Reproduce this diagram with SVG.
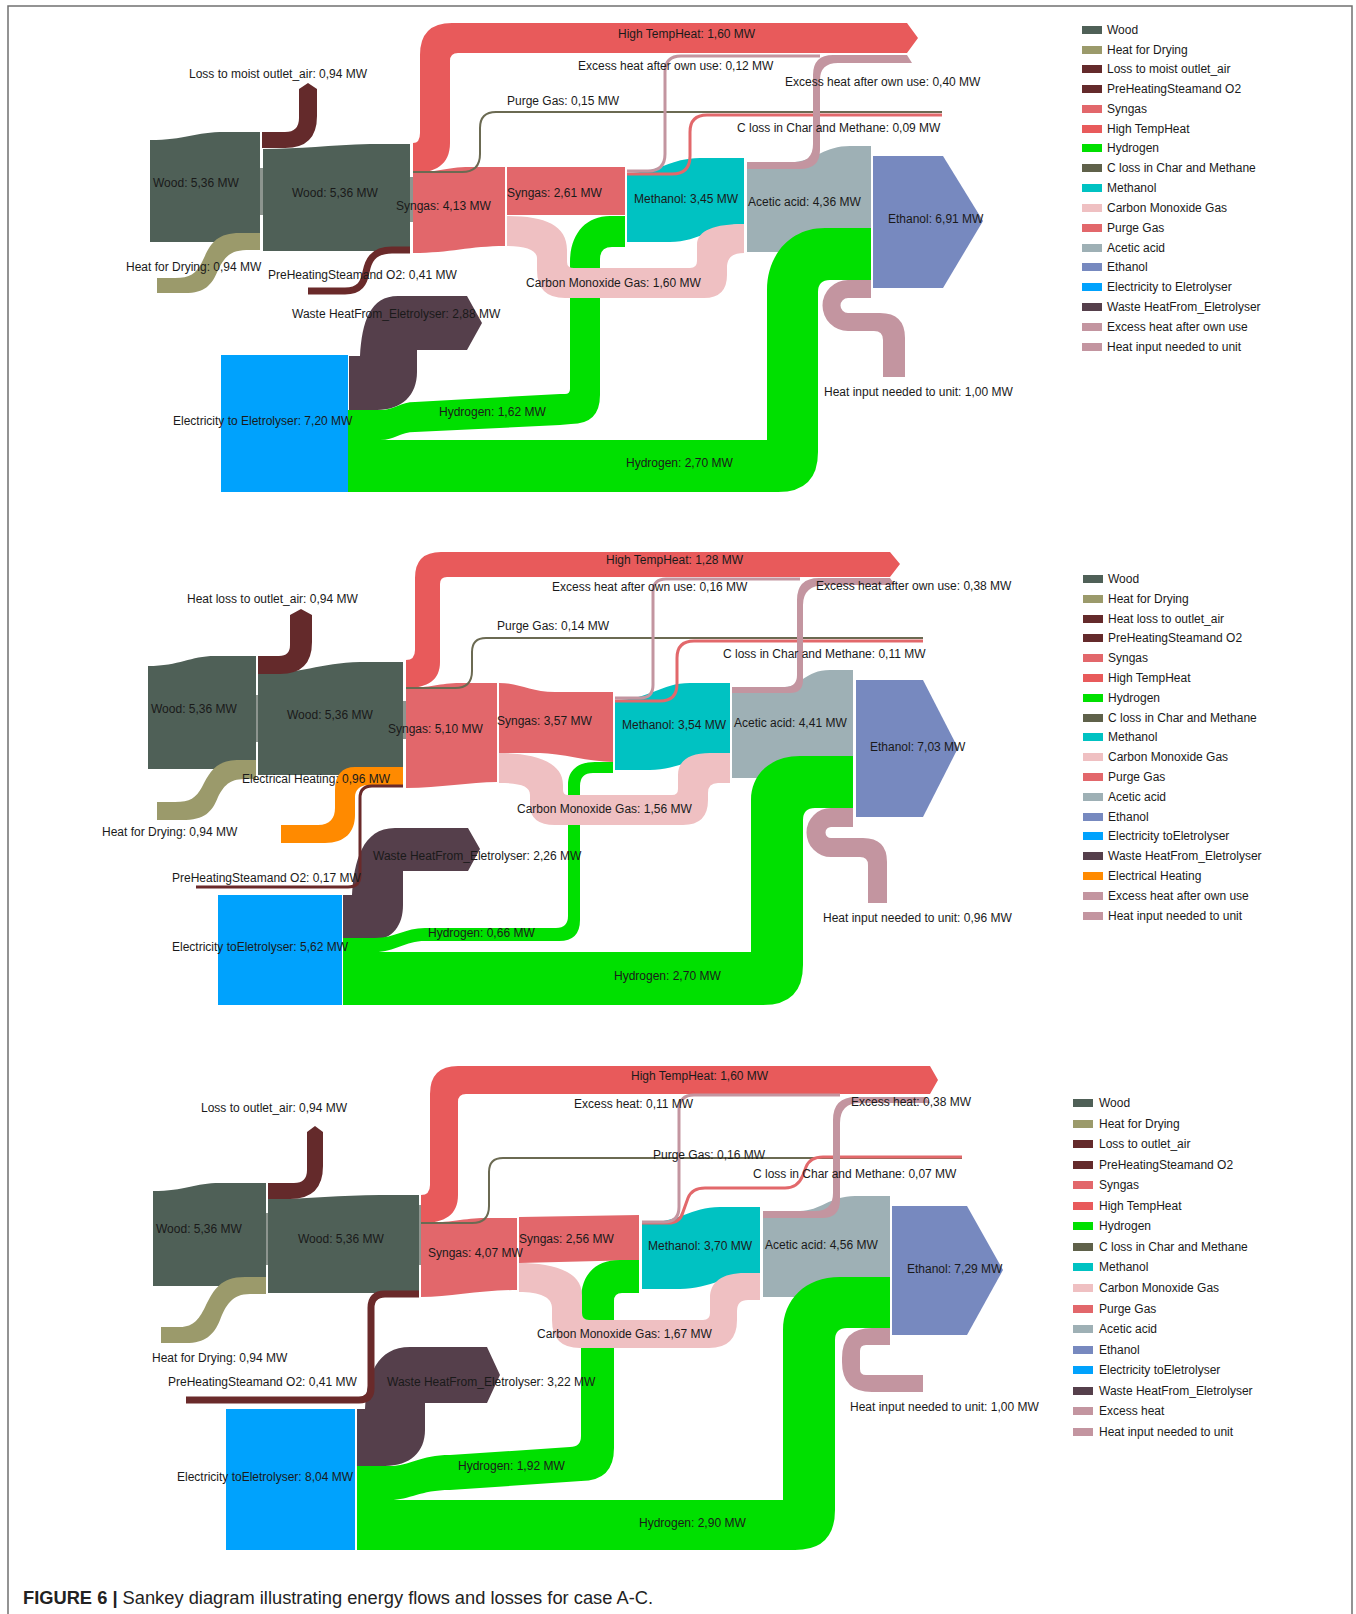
<svg xmlns="http://www.w3.org/2000/svg" width="1356" height="1614" viewBox="0 0 1356 1614">
<style>
.t{font-family:"Liberation Sans",Arial,sans-serif;font-size:12px;fill:#1a1a1a}
.wood{fill:#4f6057}.dry{fill:#9b9a6b}.loss{fill:#642a2b}.syn{fill:#e2676b}.hth{fill:#e85a5b}
.h2{fill:#00e000}.meoh{fill:#00c2c2}.co{fill:#efc0c2}.ace{fill:#9eb0b5}.eth{fill:#7789bf}
.elec{fill:#00a2fd}.waste{fill:#553f4b}.exc{fill:#c395a0}.eheat{fill:#ff8a00}.strip{fill:#8d958f}
.lgrey{fill:none;stroke:#6b6a52;stroke-width:2}.lred{fill:none;stroke:#e2686b;stroke-width:3}
.lmauve{fill:none;stroke:#c395a0;stroke-width:3}.lpre{fill:none;stroke:#6a2a2a}
</style>
<rect width="1356" height="1614" fill="#fff"/>
<path d="M8,1614 L8,6 L1352,6 L1352,1614" fill="none" stroke="#707070" stroke-width="1.5"/>

<!-- ================= PANEL A ================= -->
<g id="panelA">
<g id="A-wood-in"><path class="wood" d="M150,140 C185,140 195,132 225,132 L260,132 L260,242 L150,242 Z"/></g>
<g id="A-wood"><rect class="strip" x="260" y="168" width="3" height="47"/><path class="wood" d="M263,149 C300,149 330,145 370,144 L410,144 L410,251 L263,251 Z"/></g>
<g id="A-syngas"><rect class="strip" x="410" y="177" width="3" height="45"/><path class="syn" d="M413,173 C435,173 445,167 470,167 L505,167 L505,246 C470,246 450,253 413,253 Z"/></g>
<g id="A-syngas2"><rect class="syn" x="507" y="167" width="118" height="48"/></g>
<g id="A-methanol"><path class="meoh" d="M627,173 C660,173 670,158 700,158 L744,158 L744,224 C715,224 700,242 670,242 L627,242 Z"/></g>
<g id="A-acetic"><path class="ace" d="M747,162 L795,162 C815,160 825,146 850,146 L871,146 L871,252 L747,252 Z"/></g>
<g id="A-ethanol"><path class="eth" d="M873,156 L943,156 L983,221 L943,288 L873,288 Z"/></g>
<g id="A-electrolyser"><rect class="elec" x="221" y="355" width="127" height="137"/></g>
<g id="A-wasteheat"><path class="waste" d="M349,356 L360,356 C362,322 370,296 398,296 L467,296 L482,323 L467,350 L417,350 L417,372 C417,395 402,410 377,410 L349,410 Z"/></g>
<g id="A-connectors">
<path class="hth" d="M413,143 Q420,143 420,133 L420,55 Q420,23 452,23 L907,23 L918,38 L907,53 L458,53 Q450,53 450,61 L450,143 C450,165 435,173 413,173 Z"/>
<path class="loss" d="M262,148 L285,148 Q317,148 317,116 L317,89 L308,83 L299,89 L299,118 Q299,132 285,132 L262,132 Z"/>
<path class="dry" d="M260,233 L240,233 C215,233 210,245 202,262 C196,274 190,278 175,278 L157,278 L157,293 L185,293 C205,293 212,285 218,270 C226,254 232,250 250,250 L260,250 Z"/>
<path class="lpre" stroke-width="7" d="M410,250 L392,250 C372,250 368,262 366,272 C364,283 360,291 345,291 L308,291"/>
<path class="lgrey" d="M413,172 L462,172 Q480,172 480,154 L480,128 Q480,112 496,112 L942,112"/>
<path class="lred" d="M627,174 L672,174 Q690,174 690,156 L690,132 Q690,115 707,115 L942,115"/>
<path class="lmauve" d="M627,171 L648,171 Q665,171 665,154 L665,72 Q665,56 681,56 L820,56"/>
<path class="exc" d="M747,162 L795,162 Q813,162 813,144 L813,75 Q813,55 833,55 L907,55 L912,63 L838,63 Q820,63 820,80 L820,150 Q820,169 800,169 L747,169 Z"/>
<path class="h2" d="M348,410 L380,410 C395,410 400,402 415,402 L560,394 L565,394 Q570,394 570,389 L570,262 C570,235 585,216 610,216 L625,216 L625,247 L612,247 Q600,247 600,259 L600,395 Q600,424 571,424 L560,425 L415,432 C400,432 395,440 380,440 L348,440 Z"/>
<path class="h2" d="M348,440 L767,440 L767,290 C767,255 790,228 825,228 L871,228 L871,280 L830,280 Q818,280 818,292 L818,452 Q818,492 778,492 L348,492 Z"/>
<path class="co" d="M507,216 C545,216 567,225 567,250 L567,262 Q567,268 574,268 L690,268 Q697,268 697,261 L697,245 C697,230 715,224 744,224 L744,253 C732,253 727,258 727,268 L727,275 Q727,298 704,298 L565,298 Q537,298 537,270 L537,258 C537,250 525,246 507,246 Z"/>
<path class="exc" d="M871,280 L848,280 A25.5,25.5 0 0 0 848,331 L874,331 Q883,331 883,340 L883,377 L905,377 L905,338 Q905,313 880,313 L848,313 A7.5,7.5 0 0 1 848,298 L871,298 Z"/>
</g>
<g id="A-labels" class="t">
<text x="189" y="78">Loss to moist outlet_air: 0,94 MW</text>
<text x="153" y="187">Wood: 5,36 MW</text>
<text x="292" y="197">Wood: 5,36 MW</text>
<text x="396" y="210">Syngas: 4,13 MW</text>
<text x="507" y="197">Syngas: 2,61 MW</text>
<text x="126" y="271">Heat for Drying: 0,94 MW</text>
<text x="268" y="279">PreHeatingSteamand O2: 0,41 MW</text>
<text x="292" y="318">Waste HeatFrom_Eletrolyser: 2,88 MW</text>
<text x="173" y="425">Electricity to Eletrolyser: 7,20 MW</text>
<text x="439" y="416">Hydrogen: 1,62 MW</text>
<text x="526" y="287">Carbon Monoxide Gas: 1,60 MW</text>
<text x="626" y="467">Hydrogen: 2,70 MW</text>
<text x="824" y="396">Heat input needed to unit: 1,00 MW</text>
<text x="618" y="38">High TempHeat: 1,60 MW</text>
<text x="578" y="70">Excess heat after own use: 0,12 MW</text>
<text x="785" y="86">Excess heat after own use: 0,40 MW</text>
<text x="507" y="105">Purge Gas: 0,15 MW</text>
<text x="737" y="132">C loss in Char and Methane: 0,09 MW</text>
<text x="634" y="203">Methanol: 3,45 MW</text>
<text x="748" y="206">Acetic acid: 4,36 MW</text>
<text x="888" y="223">Ethanol: 6,91 MW</text>
</g>
<g id="A-legend" class="t">
<rect x="1082" y="26" width="20" height="8" class="wood"/><text x="1107" y="34">Wood</text>
<rect x="1082" y="46" width="20" height="8" class="dry"/><text x="1107" y="54">Heat for Drying</text>
<rect x="1082" y="65" width="20" height="8" class="loss"/><text x="1107" y="73">Loss to moist outlet_air</text>
<rect x="1082" y="85" width="20" height="8" class="loss"/><text x="1107" y="93">PreHeatingSteamand O2</text>
<rect x="1082" y="105" width="20" height="8" class="syn"/><text x="1107" y="113">Syngas</text>
<rect x="1082" y="125" width="20" height="8" class="hth"/><text x="1107" y="133">High TempHeat</text>
<rect x="1082" y="144" width="20" height="8" class="h2"/><text x="1107" y="152">Hydrogen</text>
<rect x="1082" y="164" width="20" height="8" fill="#5f614a"/><text x="1107" y="172">C loss in Char and Methane</text>
<rect x="1082" y="184" width="20" height="8" class="meoh"/><text x="1107" y="192">Methanol</text>
<rect x="1082" y="204" width="20" height="8" class="co"/><text x="1107" y="212">Carbon Monoxide Gas</text>
<rect x="1082" y="224" width="20" height="8" class="syn"/><text x="1107" y="232">Purge Gas</text>
<rect x="1082" y="244" width="20" height="8" class="ace"/><text x="1107" y="252">Acetic acid</text>
<rect x="1082" y="263" width="20" height="8" class="eth"/><text x="1107" y="271">Ethanol</text>
<rect x="1082" y="283" width="20" height="8" class="elec"/><text x="1107" y="291">Electricity to Eletrolyser</text>
<rect x="1082" y="303" width="20" height="8" class="waste"/><text x="1107" y="311">Waste HeatFrom_Eletrolyser</text>
<rect x="1082" y="323" width="20" height="8" class="exc"/><text x="1107" y="331">Excess heat after own use</text>
<rect x="1082" y="343" width="20" height="8" class="exc"/><text x="1107" y="351">Heat input needed to unit</text>
</g>
</g>

<!-- ================= PANEL B ================= -->
<g id="panelB">
<g id="B-wood-in"><path class="wood" d="M148,666 C180,666 190,656 215,656 L256,656 L256,769 L148,769 Z"/></g>
<g id="B-wood"><rect class="strip" x="256" y="695" width="2" height="47"/><path class="wood" d="M258,674 C300,674 320,663 360,662 L403,662 L403,775 L258,775 Z"/></g>
<g id="B-syngas"><rect class="strip" x="403" y="701" width="3" height="38"/><path class="syn" d="M406,688 C430,688 440,683 460,683 L497,683 L497,782 C470,782 440,788 406,788 Z"/></g>
<g id="B-syngas2"><path class="syn" d="M499,683 C520,683 530,692 555,692 L613,692 L613,762 C590,762 560,753 540,753 L499,753 Z"/></g>
<g id="B-methanol"><path class="meoh" d="M615,700 C650,700 660,683 690,683 L730,683 L730,753 C700,753 680,770 650,770 L615,770 Z"/></g>
<g id="B-acetic"><path class="ace" d="M732,687 L785,687 C800,687 805,670 830,670 L853,670 L853,778 L732,778 Z"/></g>
<g id="B-ethanol"><path class="eth" d="M856,680 L923,680 L958,748 L923,817 L856,817 Z"/></g>
<g id="B-electrolyser"><rect class="elec" x="218" y="895" width="124" height="110"/></g>
<g id="B-wasteheat"><path class="waste" d="M343,895 L352,895 C354,862 362,828 395,828 L468,828 L480,849 L468,871 L403,871 L403,905 C403,925 393,940 372,940 L343,940 Z"/></g>
<g id="B-connectors">
<path class="hth" d="M406,660 Q415,660 415,650 L415,578 Q415,552 441,552 L890,552 L900,564 L890,577 L447,577 Q440,577 440,584 L440,662 C440,680 428,688 406,688 Z"/>
<path class="loss" d="M258,674 L280,674 Q312,674 312,642 L312,615 L301,609 L290,615 L290,645 Q290,656 279,656 L258,656 Z"/>
<path class="dry" d="M256,760 L240,760 C215,760 210,772 202,787 C196,798 190,802 175,802 L157,802 L157,820 L182,820 C205,820 212,812 218,797 C225,783 232,779 246,779 L256,779 Z"/>
<path class="eheat" d="M403,767 L355,767 C342,767 335,775 335,790 L335,808 C335,818 330,825 318,825 L281,825 L281,843 L325,843 C345,843 355,832 355,815 L355,797 C355,790 360,785 368,785 L403,785 Z"/>
<path class="lpre" stroke-width="3" d="M403,786 L372,786 Q360,786 360,798 L360,875 Q360,887 348,887 L196,887"/>
<path class="lgrey" d="M406,688 L455,688 Q472,688 472,671 L472,652 Q472,638 486,638 L923,638"/>
<path class="lred" d="M615,701 L660,701 Q677,701 677,684 L677,658 Q677,641 694,641 L923,641"/>
<path class="lmauve" d="M615,698 L640,698 Q653,698 653,685 L653,592 Q653,579 666,579 L800,579"/>
<path class="exc" d="M732,687 L785,687 Q797,687 797,675 L797,600 Q797,578 819,578 L890,578 L895,585 L826,585 Q803,585 803,605 L803,680 Q803,693 790,693 L732,693 Z"/>
<path class="h2" d="M343,938 L375,938 C395,938 405,928 425,928 L556,928 Q568,928 568,916 L568,785 C568,770 578,762 595,762 L613,762 L613,773 L593,773 Q580,773 580,786 L580,920 Q580,941 559,941 L425,941 C405,941 395,952 375,952 L343,952 Z"/>
<path class="h2" d="M343,952 L751,952 L751,800 C751,775 770,756 800,756 L853,756 L853,808 L815,808 Q803,808 803,820 L803,965 Q803,1005 763,1005 L343,1005 Z"/>
<path class="co" d="M499,753 C530,753 563,760 563,785 L563,790 Q563,795 568,795 L672,795 Q678,795 678,789 L678,775 C678,760 690,753 710,753 L730,753 L730,783 L718,783 Q708,783 708,793 L708,800 Q708,825 683,825 L555,825 Q530,825 530,805 L530,795 C530,786 520,783 499,783 Z"/>
<path class="exc" d="M853,808 L831,808 A24.5,24.5 0 0 0 831,857 L860,857 Q868,857 868,865 L868,903 L887,903 L887,862 Q887,838 863,838 L831,838 A5.5,5.5 0 0 1 831,827 L853,827 Z"/>
</g>
<g id="B-labels" class="t">
<text x="187" y="603">Heat loss to outlet_air: 0,94 MW</text>
<text x="151" y="713">Wood: 5,36 MW</text>
<text x="287" y="719">Wood: 5,36 MW</text>
<text x="388" y="733">Syngas: 5,10 MW</text>
<text x="497" y="725">Syngas: 3,57 MW</text>
<text x="242" y="783">Electrical Heating: 0,96 MW</text>
<text x="102" y="836">Heat for Drying: 0,94 MW</text>
<text x="373" y="860">Waste HeatFrom_Eletrolyser: 2,26 MW</text>
<text x="172" y="882">PreHeatingSteamand O2: 0,17 MW</text>
<text x="428" y="937">Hydrogen: 0,66 MW</text>
<text x="172" y="951">Electricity toEletrolyser: 5,62 MW</text>
<text x="497" y="630">Purge Gas: 0,14 MW</text>
<text x="606" y="564">High TempHeat: 1,28 MW</text>
<text x="552" y="591">Excess heat after own use: 0,16 MW</text>
<text x="816" y="590">Excess heat after own use: 0,38 MW</text>
<text x="723" y="658">C loss in Char and Methane: 0,11 MW</text>
<text x="622" y="729">Methanol: 3,54 MW</text>
<text x="734" y="727">Acetic acid: 4,41 MW</text>
<text x="870" y="751">Ethanol: 7,03 MW</text>
<text x="517" y="813">Carbon Monoxide Gas: 1,56 MW</text>
<text x="614" y="980">Hydrogen: 2,70 MW</text>
<text x="823" y="922">Heat input needed to unit: 0,96 MW</text>
</g>
<g id="B-legend" class="t">
<rect x="1083" y="575" width="20" height="8" class="wood"/><text x="1108" y="583">Wood</text>
<rect x="1083" y="595" width="20" height="8" class="dry"/><text x="1108" y="603">Heat for Drying</text>
<rect x="1083" y="615" width="20" height="8" class="loss"/><text x="1108" y="623">Heat loss to outlet_air</text>
<rect x="1083" y="634" width="20" height="8" class="loss"/><text x="1108" y="642">PreHeatingSteamand O2</text>
<rect x="1083" y="654" width="20" height="8" class="syn"/><text x="1108" y="662">Syngas</text>
<rect x="1083" y="674" width="20" height="8" class="hth"/><text x="1108" y="682">High TempHeat</text>
<rect x="1083" y="694" width="20" height="8" class="h2"/><text x="1108" y="702">Hydrogen</text>
<rect x="1083" y="714" width="20" height="8" fill="#5f614a"/><text x="1108" y="722">C loss in Char and Methane</text>
<rect x="1083" y="733" width="20" height="8" class="meoh"/><text x="1108" y="741">Methanol</text>
<rect x="1083" y="753" width="20" height="8" class="co"/><text x="1108" y="761">Carbon Monoxide Gas</text>
<rect x="1083" y="773" width="20" height="8" class="syn"/><text x="1108" y="781">Purge Gas</text>
<rect x="1083" y="793" width="20" height="8" class="ace"/><text x="1108" y="801">Acetic acid</text>
<rect x="1083" y="813" width="20" height="8" class="eth"/><text x="1108" y="821">Ethanol</text>
<rect x="1083" y="832" width="20" height="8" class="elec"/><text x="1108" y="840">Electricity toEletrolyser</text>
<rect x="1083" y="852" width="20" height="8" class="waste"/><text x="1108" y="860">Waste HeatFrom_Eletrolyser</text>
<rect x="1083" y="872" width="20" height="8" class="eheat"/><text x="1108" y="880">Electrical Heating</text>
<rect x="1083" y="892" width="20" height="8" class="exc"/><text x="1108" y="900">Excess heat after own use</text>
<rect x="1083" y="912" width="20" height="8" class="exc"/><text x="1108" y="920">Heat input needed to unit</text>
</g>
</g>

<!-- ================= PANEL C ================= -->
<g id="panelC">
<g id="C-wood-in"><path class="wood" d="M153,1191 C185,1191 195,1183 220,1183 L266,1183 L266,1286 L153,1286 Z"/></g>
<g id="C-wood"><rect class="strip" x="266" y="1213" width="2" height="52"/><path class="wood" d="M268,1199 C310,1199 340,1195 380,1195 L419,1195 L419,1293 L268,1293 Z"/></g>
<g id="C-syngas"><rect class="strip" x="419" y="1205" width="2" height="60"/><path class="syn" d="M421,1223 C450,1223 465,1218 485,1218 L517,1218 L517,1290 C480,1290 450,1297 421,1297 Z"/></g>
<g id="C-syngas2"><path class="syn" d="M519,1217 L639,1215 L639,1260 L519,1263 Z"/></g>
<g id="C-methanol"><path class="meoh" d="M642,1223 C680,1223 690,1207 720,1207 L760,1207 L760,1273 C730,1273 710,1289 680,1289 L642,1289 Z"/></g>
<g id="C-acetic"><path class="ace" d="M763,1211 L800,1211 C820,1211 830,1196 855,1196 L890,1196 L890,1297 L763,1297 Z"/></g>
<g id="C-ethanol"><path class="eth" d="M892,1206 L967,1206 L1003,1270 L967,1335 L892,1335 Z"/></g>
<g id="C-electrolyser"><rect class="elec" x="226" y="1409" width="129" height="141"/></g>
<g id="C-wasteheat"><path class="waste" d="M357,1409 L365,1409 C367,1375 377,1347 410,1347 L487,1347 L500,1375 L487,1403 L425,1403 L425,1430 C425,1452 410,1466 385,1466 L357,1466 Z"/></g>
<g id="C-connectors">
<path class="hth" d="M421,1195 Q430,1195 430,1185 L430,1094 Q430,1066 458,1066 L930,1066 L938,1080 L930,1094 L466,1094 Q458,1094 458,1102 L458,1195 C458,1215 445,1223 421,1223 Z"/>
<path class="loss" d="M268,1199 L290,1199 Q323,1199 323,1166 L323,1132 L315,1126 L307,1132 L307,1170 Q307,1183 294,1183 L268,1183 Z"/>
<path class="dry" d="M266,1277 L245,1277 C220,1277 214,1290 206,1305 C200,1318 194,1327 180,1327 L161,1327 L161,1343 L186,1343 C205,1343 214,1335 220,1320 C226,1305 232,1294 250,1294 L266,1294 Z"/>
<path class="lpre" stroke-width="7" d="M419,1294 L385,1294 Q371,1294 371,1308 L371,1388 Q371,1400 359,1400 L186,1400"/>
<path class="lgrey" d="M421,1223 L472,1223 Q489,1223 489,1206 L489,1172 Q489,1158 503,1158 L962,1158"/>
<path class="lred" d="M642,1223 L668,1223 Q680,1223 683,1212 L688,1198 Q692,1188 705,1188 L785,1188 Q798,1188 803,1175 L806,1167 Q810,1157 823,1157 L962,1157"/>
<path class="lmauve" d="M642,1222 L664,1222 Q679,1222 679,1207 L679,1110 Q679,1095 694,1095 L840,1095"/>
<path class="exc" d="M763,1211 L815,1211 Q833,1211 833,1193 L833,1120 Q833,1097 856,1097 L925,1097 L930,1103 L860,1103 Q840,1103 840,1123 L840,1200 Q840,1218 822,1218 L763,1218 Z"/>
<path class="h2" d="M357,1466 L390,1466 C410,1466 420,1455 450,1455 L570,1447 Q581,1447 581,1436 L581,1300 C581,1275 595,1260 620,1260 L639,1260 L639,1293 L622,1293 Q614,1293 614,1301 L614,1448 Q614,1481 581,1481 L450,1490 C420,1490 410,1500 390,1500 L357,1500 Z"/>
<path class="h2" d="M357,1500 L783,1500 L783,1330 C783,1300 805,1277 840,1277 L890,1277 L890,1328 L847,1328 Q835,1328 835,1340 L835,1510 Q835,1550 795,1550 L357,1550 Z"/>
<path class="co" d="M519,1263 C550,1263 582,1270 582,1295 L582,1313 Q582,1320 589,1320 L703,1320 Q710,1320 710,1313 L710,1298 C710,1282 722,1273 745,1273 L760,1273 L760,1300 L748,1300 Q737,1300 737,1311 L737,1320 Q737,1348 709,1348 L580,1348 Q552,1348 552,1320 L552,1308 C552,1297 540,1292 519,1292 Z"/>
<path class="exc" d="M890,1328 L872,1328 Q842,1328 842,1358 L842,1362 Q842,1392 872,1392 L923,1392 L923,1375 L866,1375 Q860,1375 860,1369 L860,1351 Q860,1345 866,1345 L890,1345 Z"/>
</g>
<g id="C-labels" class="t">
<text x="201" y="1112">Loss to outlet_air: 0,94 MW</text>
<text x="156" y="1233">Wood: 5,36 MW</text>
<text x="298" y="1243">Wood: 5,36 MW</text>
<text x="428" y="1257">Syngas: 4,07 MW</text>
<text x="519" y="1243">Syngas: 2,56 MW</text>
<text x="152" y="1362">Heat for Drying: 0,94 MW</text>
<text x="168" y="1386">PreHeatingSteamand O2: 0,41 MW</text>
<text x="387" y="1386">Waste HeatFrom_Eletrolyser: 3,22 MW</text>
<text x="177" y="1481">Electricity toEletrolyser: 8,04 MW</text>
<text x="458" y="1470">Hydrogen: 1,92 MW</text>
<text x="537" y="1338">Carbon Monoxide Gas: 1,67 MW</text>
<text x="631" y="1080">High TempHeat: 1,60 MW</text>
<text x="574" y="1108">Excess heat: 0,11 MW</text>
<text x="851" y="1106">Excess heat: 0,38 MW</text>
<text x="653" y="1159">Purge Gas: 0,16 MW</text>
<text x="753" y="1178">C loss in Char and Methane: 0,07 MW</text>
<text x="648" y="1250">Methanol: 3,70 MW</text>
<text x="765" y="1249">Acetic acid: 4,56 MW</text>
<text x="907" y="1273">Ethanol: 7,29 MW</text>
<text x="639" y="1527">Hydrogen: 2,90 MW</text>
<text x="850" y="1411">Heat input needed to unit: 1,00 MW</text>
</g>
<g id="C-legend" class="t">
<rect x="1073" y="1099" width="20" height="8" class="wood"/><text x="1099" y="1107">Wood</text>
<rect x="1073" y="1120" width="20" height="8" class="dry"/><text x="1099" y="1128">Heat for Drying</text>
<rect x="1073" y="1140" width="20" height="8" class="loss"/><text x="1099" y="1148">Loss to outlet_air</text>
<rect x="1073" y="1161" width="20" height="8" class="loss"/><text x="1099" y="1169">PreHeatingSteamand O2</text>
<rect x="1073" y="1181" width="20" height="8" class="syn"/><text x="1099" y="1189">Syngas</text>
<rect x="1073" y="1202" width="20" height="8" class="hth"/><text x="1099" y="1210">High TempHeat</text>
<rect x="1073" y="1222" width="20" height="8" class="h2"/><text x="1099" y="1230">Hydrogen</text>
<rect x="1073" y="1243" width="20" height="8" fill="#5f614a"/><text x="1099" y="1251">C loss in Char and Methane</text>
<rect x="1073" y="1263" width="20" height="8" class="meoh"/><text x="1099" y="1271">Methanol</text>
<rect x="1073" y="1284" width="20" height="8" class="co"/><text x="1099" y="1292">Carbon Monoxide Gas</text>
<rect x="1073" y="1305" width="20" height="8" class="syn"/><text x="1099" y="1313">Purge Gas</text>
<rect x="1073" y="1325" width="20" height="8" class="ace"/><text x="1099" y="1333">Acetic acid</text>
<rect x="1073" y="1346" width="20" height="8" class="eth"/><text x="1099" y="1354">Ethanol</text>
<rect x="1073" y="1366" width="20" height="8" class="elec"/><text x="1099" y="1374">Electricity toEletrolyser</text>
<rect x="1073" y="1387" width="20" height="8" class="waste"/><text x="1099" y="1395">Waste HeatFrom_Eletrolyser</text>
<rect x="1073" y="1407" width="20" height="8" class="exc"/><text x="1099" y="1415">Excess heat</text>
<rect x="1073" y="1428" width="20" height="8" class="exc"/><text x="1099" y="1436">Heat input needed to unit</text>
</g>
</g>

<text x="23" y="1604" font-family="Liberation Sans, Arial, sans-serif" font-size="18.3" fill="#222"><tspan font-weight="bold">FIGURE 6 |</tspan> Sankey diagram illustrating energy flows and losses for case A-C.</text>
</svg>
